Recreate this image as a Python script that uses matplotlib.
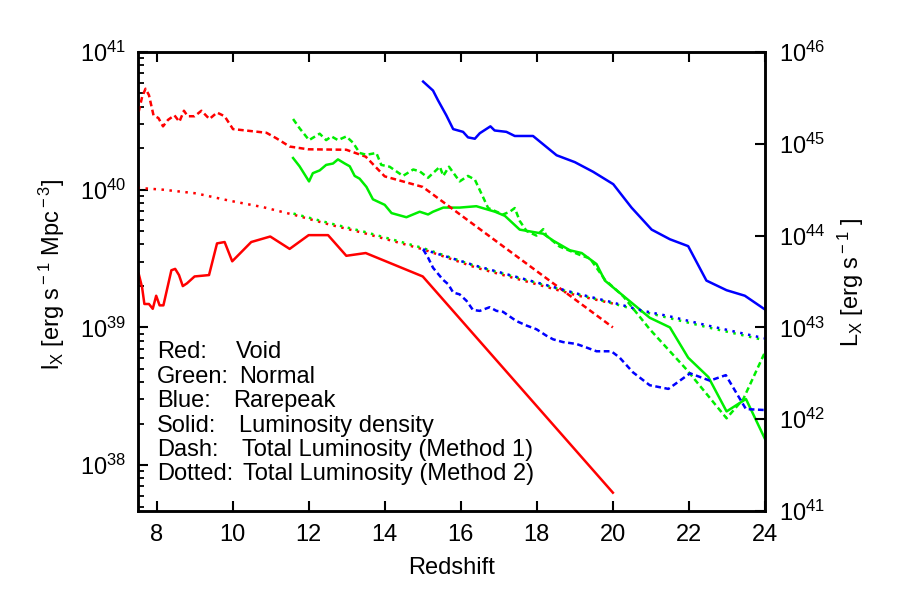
import numpy as np
import matplotlib
matplotlib.use('Agg')
import matplotlib.pyplot as plt
from matplotlib.ticker import FixedLocator, FuncFormatter, LogLocator, NullFormatter, NullLocator

plt.rcParams['font.family'] = ['Liberation Sans', 'DejaVu Sans']
plt.rcParams['mathtext.fontset'] = 'custom'
plt.rcParams['mathtext.rm'] = 'Liberation Sans'
plt.rcParams['mathtext.it'] = 'Liberation Sans:italic'
plt.rcParams['mathtext.bf'] = 'Liberation Sans:bold'

# ---------------- data (log10 values) ----------------
# Solid: luminosity density l_X [erg s^-1 Mpc^-3]  (left axis)
red_solid_z = [7.53, 7.62, 7.68, 7.80, 7.90, 7.99, 8.08, 8.18, 8.39, 8.49, 8.59, 8.69, 8.80,
               9.00, 9.38, 9.59, 9.79, 9.99, 10.49, 10.99, 11.50, 12.00, 12.51, 12.99, 13.50,
               15.00, 20.00]
red_solid_logl = [39.39, 39.29, 39.17, 39.17, 39.135, 39.23, 39.16, 39.16, 39.415, 39.425, 39.38,
                  39.30, 39.32, 39.37, 39.38, 39.61, 39.62, 39.48, 39.62, 39.66, 39.57, 39.67,
                  39.67, 39.52, 39.54, 39.37, 37.80]

green_solid_z = [11.59, 11.76, 12.01, 12.11, 12.29, 12.46, 12.64, 12.77, 12.95, 13.08, 13.21,
                 13.34, 13.52, 13.69, 14.00, 14.18, 14.57, 14.92, 15.14, 15.27, 15.54, 15.97,
                 16.41, 16.90, 17.16, 17.55, 18.17, 18.43, 18.87, 19.18, 19.57, 19.79, 20.27,
                 20.97, 21.50, 21.98, 22.51, 22.99, 23.50, 24.00]
green_solid_logl = [40.23, 40.17, 40.06, 40.12, 40.14, 40.18, 40.19, 40.22, 40.19, 40.17, 40.10,
                    40.08, 40.02, 39.93, 39.89, 39.83, 39.80, 39.84, 39.82, 39.84, 39.87, 39.87,
                    39.88, 39.84, 39.81, 39.71, 39.68, 39.63, 39.56, 39.54, 39.46, 39.34, 39.23,
                    39.07, 39.00, 38.78, 38.64, 38.39, 38.48, 38.19]

blue_solid_z = [15.01, 15.27, 15.40, 15.62, 15.80, 16.06, 16.19, 16.37, 16.50, 16.78, 16.89,
                17.20, 17.42, 17.90, 18.52, 19.00, 19.48, 20.01, 20.49, 21.02, 21.50, 21.98,
                22.46, 22.99, 23.47, 24.00]
blue_solid_logl = [40.785, 40.72, 40.65, 40.54, 40.44, 40.42, 40.38, 40.37, 40.41, 40.46, 40.43,
                   40.42, 40.39, 40.39, 40.25, 40.20, 40.13, 40.04, 39.87, 39.71, 39.64, 39.59,
                   39.34, 39.27, 39.23, 39.13]

# Dashed: total luminosity, method 1, L_X [erg s^-1]  (right axis)
red_dash_z = [7.53, 7.62, 7.71, 7.80, 7.92, 8.05, 8.17, 8.30, 8.47, 8.60, 8.72, 8.82, 9.00,
              9.18, 9.39, 9.59, 9.79, 10.01, 10.45, 10.89, 11.15, 11.50, 11.98, 12.99, 13.50,
              14.00, 15.00, 20.00]
red_dash_logL = [45.35, 45.51, 45.60, 45.53, 45.31, 45.28, 45.19, 45.26, 45.31, 45.24, 45.36,
                 45.30, 45.30, 45.36, 45.27, 45.34, 45.30, 45.16, 45.14, 45.12, 45.06, 44.97,
                 44.94, 44.935, 44.86, 44.645, 44.53, 43.00]

green_dash_z = [11.59, 11.76, 12.01, 12.29, 12.46, 12.60, 12.77, 12.99, 13.17, 13.34, 13.52,
                13.78, 13.91, 14.13, 14.48, 14.75, 14.92, 15.14, 15.45, 15.54, 15.69, 15.97,
                16.19, 16.37, 16.54, 16.72, 17.11, 17.29, 17.42, 17.55, 17.73, 17.99, 18.17,
                18.25, 18.60, 19.13, 19.40, 19.79, 20.27, 20.97, 21.94, 22.99, 23.43, 24.00]
green_dash_logL = [45.27, 45.17, 45.04, 45.11, 45.04, 45.08, 45.04, 45.08, 45.01, 44.90, 44.88,
                   44.90, 44.77, 44.75, 44.65, 44.72, 44.70, 44.63, 44.75, 44.65, 44.75, 44.59,
                   44.65, 44.61, 44.46, 44.30, 44.23, 44.26, 44.30, 44.16, 44.05, 44.00, 44.07,
                   44.00, 43.88, 43.79, 43.75, 43.52, 43.34, 42.98, 42.54, 42.01, 42.22, 42.73]

blue_dash_z = [15.01, 15.14, 15.27, 15.53, 15.67, 15.80, 15.97, 16.15, 16.32, 16.50, 16.76,
               16.94, 17.11, 17.46, 17.73, 17.99, 18.25, 18.43, 18.69, 19.04, 19.31, 19.57,
               19.96, 20.18, 20.53, 20.97, 21.46, 22.03, 22.55, 22.97, 23.50, 24.00]
blue_dash_logL = [43.85, 43.76, 43.65, 43.52, 43.47, 43.38, 43.36, 43.29, 43.19, 43.18, 43.22,
                  43.18, 43.17, 43.07, 43.02, 42.98, 42.91, 42.87, 42.84, 42.82, 42.78, 42.74,
                  42.74, 42.67, 42.51, 42.37, 42.33, 42.50, 42.42, 42.48, 42.11, 42.10]

# Dotted: total luminosity, method 2, L_X [erg s^-1]  (right axis)
red_dot_z = [7.50, 8.17, 9.04, 9.92, 10.80, 11.67, 12.55, 13.43, 14.31, 15.01, 16.41, 17.29,
             18.17, 19.04, 20.00]
red_dot_logL = [44.52, 44.50, 44.46, 44.38, 44.31, 44.22, 44.12, 44.03, 43.93, 43.85, 43.65,
                43.55, 43.45, 43.35, 43.26]

green_dot_z = [11.60, 12.55, 13.43, 14.31, 15.00, 16.41, 17.29, 18.17, 19.04, 19.92, 20.80,
               21.50, 22.50, 24.00]
green_dot_logL = [44.24, 44.135, 44.045, 43.945, 43.865, 43.665, 43.565, 43.465, 43.365, 43.27,
                  43.17, 43.10, 43.00, 42.86]

blue_dot_z = [15.01, 16.41, 17.29, 18.17, 19.04, 19.92, 20.80, 21.50, 22.50, 24.00]
blue_dot_logL = [43.85, 43.67, 43.57, 43.47, 43.37, 43.28, 43.18, 43.12, 43.02, 42.88]

x_ticks = [8, 10, 12, 14, 16, 18, 20, 22, 24]
left_ticks_exp = [38, 39, 40, 41]
right_ticks_exp = [41, 42, 43, 44, 45, 46]

legend_keys = ['Red:', 'Green:', 'Blue:', 'Solid:', 'Dash:', 'Dotted:']
legend_vals = ['Void', 'Normal', 'Rarepeak', 'Luminosity density',
               'Total Luminosity (Method 1)', 'Total Luminosity (Method 2)']

# ---------------- figure ----------------
RED, GREEN, BLUE = '#ff0000', '#00ee00', '#0000ff'
LW = 1.8
DASH = (0, (2.3, 1.4))
DOT = (0, (1.0, 2.2))
FS = 17

fig = plt.figure(figsize=(9.2, 5.92), dpi=100)
ax = fig.add_axes([0.1495, 0.1368, 0.682, 0.7754])
ax2 = ax.twinx()

ax.set_yscale('log')
ax2.set_yscale('log')
ax.set_xlim(7.5, 24)
ax.set_ylim(10 ** (41 - 10 / 3), 1e41)
ax2.set_ylim(1e41, 1e46)

def p(a):
    return 10 ** np.asarray(a, dtype=float)

ax.plot(red_solid_z, p(red_solid_logl), color=RED, lw=LW)
ax.plot(green_solid_z, p(green_solid_logl), color=GREEN, lw=LW)
ax.plot(blue_solid_z, p(blue_solid_logl), color=BLUE, lw=LW)

ax2.plot(red_dash_z, p(red_dash_logL), color=RED, lw=LW, ls=DASH)
ax2.plot(green_dash_z, p(green_dash_logL), color=GREEN, lw=LW, ls=DASH)
ax2.plot(blue_dash_z, p(blue_dash_logL), color=BLUE, lw=LW, ls=DASH)

ax2.plot(red_dot_z, p(red_dot_logL), color=RED, lw=LW, ls=DOT)
ax2.plot(green_dot_z, p(green_dot_logL), color=GREEN, lw=LW, ls=DOT)
ax2.plot(blue_dot_z, p(blue_dot_logL), color=BLUE, lw=LW, ls=DOT)

fmt = FuncFormatter(lambda v, pos: r'$\mathdefault{10^{%d}}$' % int(round(np.log10(v))))

ax.set_xticks(x_ticks)
ax.set_xticklabels([str(t) for t in x_ticks])
ax.yaxis.set_major_locator(FixedLocator([10.0 ** e for e in left_ticks_exp]))
ax.yaxis.set_major_formatter(fmt)
ax.yaxis.set_minor_locator(LogLocator(base=10, subs=np.arange(2, 10) * 1.0, numticks=30))
ax.yaxis.set_minor_formatter(NullFormatter())
ax.xaxis.set_minor_locator(NullLocator())

ax2.yaxis.set_major_locator(FixedLocator([10.0 ** e for e in right_ticks_exp]))
ax2.yaxis.set_major_formatter(fmt)
ax2.yaxis.set_minor_locator(NullLocator())

ax.tick_params(axis='both', which='both', direction='in', top=True, right=False,
               labelsize=FS, colors='black')
ax.tick_params(which='major', length=7, width=1.5)
ax.tick_params(which='minor', length=4, width=1.3)
ax.tick_params(axis='x', pad=9)
ax.tick_params(axis='y', pad=8)
ax2.tick_params(axis='y', which='both', direction='in', left=False, right=True,
                length=7, width=1.5, labelsize=FS, pad=10)

for a in (ax, ax2):
    for s in a.spines.values():
        s.set_linewidth(1.8)

ax.set_xlabel('Redshift', fontsize=FS)
ax.xaxis.set_label_coords(0.5, -0.10)
ax.set_ylabel(r'l$_{\rm X}$ [erg s$^{\rm -1}$ Mpc$^{\rm -3}$]', fontsize=FS)
ax.yaxis.set_label_coords(-0.112, 0.516)
ax2.set_ylabel(r'L$_{\rm X}$ [erg s$^{\rm -1}$ ]', fontsize=FS)
ax2.yaxis.set_label_coords(1.113, 0.499)

# legend-like text block
key_x = (157.3 - 137.5) / 627.5
val_px = [236, 239, 233, 239, 241.7, 242.7]
for i, (k, v) in enumerate(zip(legend_keys, legend_vals)):
    yb = (511 - (358.3 + 24.4 * i)) / 459.0
    ax.text(key_x, yb, k, transform=ax.transAxes, fontsize=FS, va='baseline', ha='left')
    ax.text((val_px[i] - 137.5) / 627.5, yb, v, transform=ax.transAxes, fontsize=FS,
            va='baseline', ha='left')

fig.savefig('out.png', dpi=100)
